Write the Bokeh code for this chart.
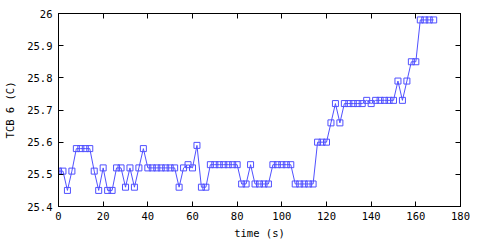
from bokeh.plotting import figure
from bokeh.models import FixedTicker, LinearAxis, Range1d
from bokeh.embed import file_html
from bokeh.resources import INLINE

time_s = [0, 2, 4, 6, 8, 10, 12, 14, 16, 18, 20, 22, 24, 26, 28, 30, 32, 34, 36, 38,
          40, 42, 44, 46, 48, 50, 52, 54, 56, 58, 60, 62, 64, 66, 68, 70, 72, 74, 76, 78,
          80, 82, 84, 86, 88, 90, 92, 94, 96, 98, 100, 102, 104, 106, 108, 110, 112, 114,
          116, 118, 120, 122, 124, 126, 128, 130, 132, 134, 136, 138, 140, 142, 144, 146,
          148, 150, 152, 154, 156, 158, 160, 162, 164, 166, 168]
tcb6 = [25.51, 25.51, 25.45, 25.51, 25.58, 25.58, 25.58, 25.58, 25.51, 25.45,
        25.52, 25.45, 25.45, 25.52, 25.52, 25.46, 25.52, 25.46, 25.52, 25.58,
        25.52, 25.52, 25.52, 25.52, 25.52, 25.52, 25.52, 25.46, 25.52, 25.53,
        25.52, 25.59, 25.46, 25.46, 25.53, 25.53, 25.53, 25.53, 25.53, 25.53,
        25.53, 25.47, 25.47, 25.53, 25.47, 25.47, 25.47, 25.47, 25.53, 25.53,
        25.53, 25.53, 25.53, 25.47, 25.47, 25.47, 25.47, 25.47, 25.60, 25.60,
        25.60, 25.66, 25.72, 25.66, 25.72, 25.72, 25.72, 25.72, 25.72, 25.73,
        25.72, 25.73, 25.73, 25.73, 25.73, 25.73, 25.79, 25.73, 25.79, 25.85,
        25.85, 25.98, 25.98, 25.98, 25.98]

x_ticks = [0, 20, 40, 60, 80, 100, 120, 140, 160, 180]
y_ticks = [25.4, 25.5, 25.6, 25.7, 25.8, 25.9, 26.0]
y_tick_labels = ["25.4", "25.5", "25.6", "25.7", "25.8", "25.9", "26"]

FONT = "DejaVu Sans Mono"
FS = "10.5px"
COLOR = "#5050ff"

p = figure(width=480, height=240, output_backend="svg", toolbar_location=None,
           x_range=Range1d(0, 180), y_range=Range1d(25.4, 26.0),
           min_border_left=58, min_border_right=20, min_border_top=13, min_border_bottom=34)
p.frame_width = 402
p.frame_height = 193
p.outline_line_color = "black"
p.outline_line_width = 1
p.xgrid.visible = False
p.ygrid.visible = False
p.background_fill_color = "white"
p.border_fill_color = "white"

for ax in (p.xaxis[0], p.yaxis[0]):
    ax.major_tick_in = 5
    ax.major_tick_out = 0
    ax.minor_tick_in = 0
    ax.minor_tick_out = 0
    ax.axis_line_color = "black"
    ax.major_tick_line_color = "black"
    ax.major_label_text_font = FONT
    ax.major_label_text_font_size = FS
    ax.major_label_text_color = "black"
    ax.axis_label_text_font = FONT
    ax.axis_label_text_font_size = FS
    ax.axis_label_text_font_style = "normal"
    ax.axis_label_text_color = "black"

p.xaxis.ticker = FixedTicker(ticks=x_ticks)
p.yaxis.ticker = FixedTicker(ticks=y_ticks)
p.yaxis.major_label_overrides = {t: l for t, l in zip(y_ticks, y_tick_labels)}
p.xaxis.axis_label = "time (s)"
p.yaxis.axis_label = "TCB 6 (C)"
p.xaxis.major_label_standoff = 5
p.yaxis.major_label_standoff = 6
p.xaxis.axis_label_standoff = 4
p.yaxis.axis_label_standoff = 8

# mirrored ticks (as minor ticks, so no labels are drawn)
top = LinearAxis(ticker=FixedTicker(ticks=[], minor_ticks=x_ticks))
right = LinearAxis(ticker=FixedTicker(ticks=[], minor_ticks=y_ticks))
for ax in (top, right):
    ax.major_tick_in = 0
    ax.major_tick_out = 0
    ax.minor_tick_in = 5
    ax.minor_tick_out = 0
    ax.minor_tick_line_color = "black"
    ax.axis_line_color = "black"
p.add_layout(top, "above")
p.add_layout(right, "right")

p.line(time_s, tcb6, line_color=COLOR, line_width=1)
p.scatter(time_s, tcb6, marker="square", size=6, fill_color=None,
          line_color=COLOR, line_width=1)

open("out.html", "w").write(file_html(p, INLINE))
